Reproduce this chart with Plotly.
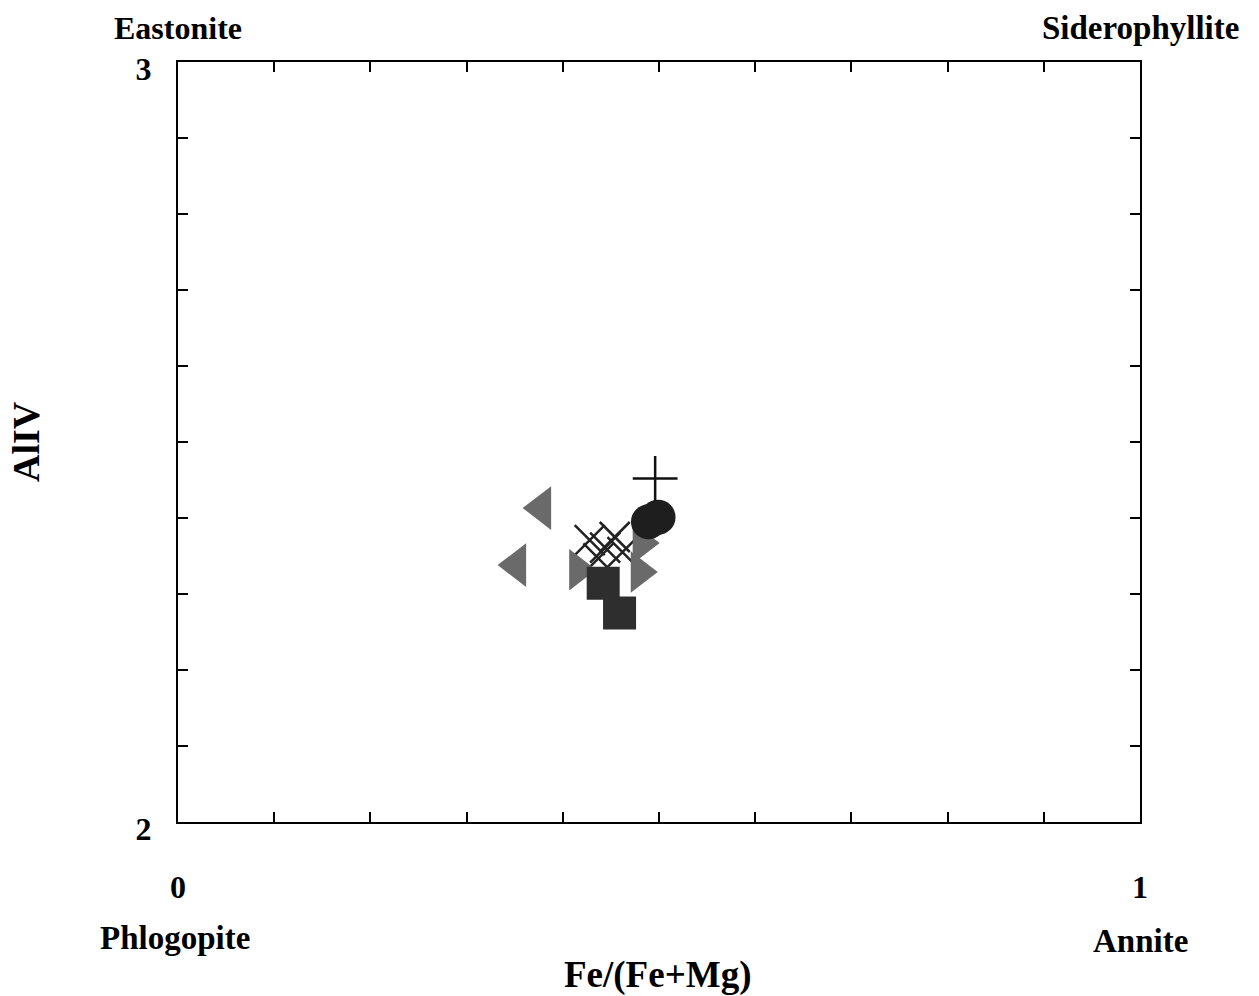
import plotly.graph_objects as go

# Data: Fe/(Fe+Mg) vs AlIV
plus_x = [0.496]
plus_y = [2.452]
tri_left_x = [0.378, 0.352]
tri_left_y = [2.413, 2.338]
tri_right_x = [0.416, 0.480, 0.482]
tri_right_y = [2.332, 2.329, 2.367]
circle_x = [0.489, 0.499]
circle_y = [2.395, 2.401]
square_x = [0.442, 0.459]
square_y = [2.314, 2.275]
cross_x = [0.428, 0.444, 0.454, 0.437, 0.462]
cross_y = [2.371, 2.361, 2.375, 2.347, 2.355]

x_tickvals = [0, 0.1, 0.2, 0.3, 0.4, 0.5, 0.6, 0.7, 0.8, 0.9, 1]
x_ticktext = ["0", "", "", "", "", "", "", "", "", "", "1"]
y_tickvals = [2, 2.1, 2.2, 2.3, 2.4, 2.5, 2.6, 2.7, 2.8, 2.9, 3]
y_ticktext = ["2", "", "", "", "", "", "", "", "", "", "3"]

FONT = "Liberation Serif"
fig = go.Figure()

fig.add_trace(go.Scatter(x=cross_x, y=cross_y, mode="markers",
    marker=dict(symbol="x-thin", size=30, line=dict(width=2.5, color="#222")), showlegend=False))
fig.add_trace(go.Scatter(x=tri_right_x, y=tri_right_y, mode="markers",
    marker=dict(symbol="triangle-right", size=36, color="#6a6a6a"), showlegend=False))
fig.add_trace(go.Scatter(x=tri_left_x, y=tri_left_y, mode="markers",
    marker=dict(symbol="triangle-left", size=38, color="#6a6a6a"), showlegend=False))
fig.add_trace(go.Scatter(x=square_x, y=square_y, mode="markers",
    marker=dict(symbol="square", size=33, color="#2e2e2e"), showlegend=False))
fig.add_trace(go.Scatter(x=circle_x, y=circle_y, mode="markers",
    marker=dict(symbol="circle", size=35, color="#1e1e1e"), showlegend=False))
fig.add_trace(go.Scatter(x=plus_x, y=plus_y, mode="markers",
    marker=dict(symbol="cross-thin", size=32, line=dict(width=2.5, color="#111")), showlegend=False))

tick_font = dict(family=FONT, size=32, color="black", weight="bold")
axis_common = dict(showline=True, linewidth=2, linecolor="black", mirror="ticks",
                   ticks="inside", ticklen=10, tickwidth=2, tickcolor="black",
                   showgrid=False, zeroline=False, tickfont=tick_font)

fig.update_xaxes(range=[0, 1], tickvals=x_tickvals, ticktext=x_ticktext,
                 ticklabelstandoff=36, **axis_common)
fig.update_yaxes(range=[2, 3], tickvals=y_tickvals, ticktext=y_ticktext,
                 ticklabelstandoff=18, ticklabelshift=7, **axis_common)

def ann(text, x, y, size, angle=0):
    fig.add_annotation(text="<b>%s</b>" % text, x=x, y=y, xref="paper", yref="paper",
                       xanchor="center", yanchor="middle", showarrow=False,
                       font=dict(family=FONT, size=size, color="black"), textangle=angle)

ann("Eastonite", 0.0, 1.045, 32)
ann("Siderophyllite", 1.0, 1.045, 33)
ann("Phlogopite", -0.003, -0.153, 33)
ann("Annite", 1.0, -0.156, 33)
ann("Fe/(Fe+Mg)", 0.498, -0.201, 37)
ann("AlIV", -0.158, 0.5, 38, angle=-90)

fig.update_layout(width=1259, height=996, margin=dict(l=178, r=119, t=62, b=174),
                  paper_bgcolor="white", plot_bgcolor="white",
                  font=dict(family=FONT, size=30, color="black"))

fig.write_html("out.html")
